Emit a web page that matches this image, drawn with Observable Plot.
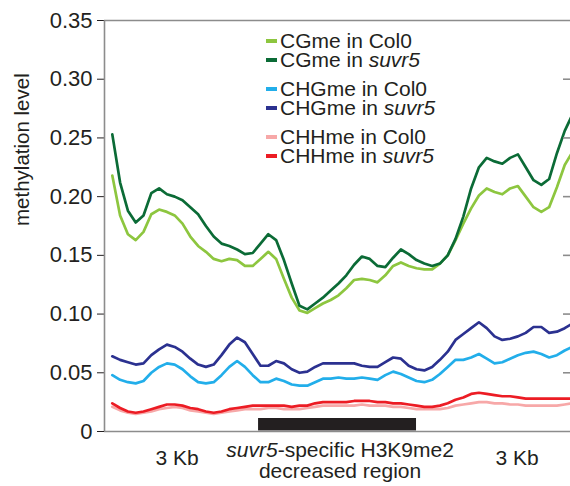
<!DOCTYPE html>
<html><head><meta charset="utf-8">
<script src="https://cdn.jsdelivr.net/npm/d3@7"></script>
<script src="https://cdn.jsdelivr.net/npm/@observablehq/plot@0.6"></script>
<style>
html,body{margin:0;padding:0;background:#fff;overflow:hidden}
#wrap{position:relative;width:570px;height:486px;font-family:"Liberation Sans",Arial,sans-serif;color:#231f20}
#legend{position:absolute;left:266px;top:31px;font-size:21px;line-height:19px}
.row{display:flex;align-items:center;height:19px;white-space:nowrap;overflow:visible}
.sw{width:11px;height:4px;margin-right:3px;flex:none}
.tx{display:inline-block;height:19px;line-height:19px;overflow:visible}
.gap{height:10px}
</style></head><body><div id="wrap"></div>
<script>
// bins: 20 bins 3 kb upstream, 20 bins in region, 20 bins 3 kb downstream
const bins = d3.range(60);
const seriesNames = ["CGme in Col0","CGme in suvr5","CHGme in Col0","CHGme in suvr5","CHHme in Col0","CHHme in suvr5"];
const cgCol0 = [0.218,0.184,0.168,0.163,0.170,0.185,0.189,0.187,0.184,0.177,0.166,0.158,0.153,0.147,0.145,0.147,0.146,0.141,0.141,0.147,0.153,0.147,0.130,0.114,0.103,0.101,0.105,0.109,0.112,0.116,0.122,0.129,0.130,0.129,0.127,0.133,0.141,0.144,0.141,0.139,0.138,0.138,0.143,0.150,0.163,0.177,0.190,0.201,0.207,0.204,0.202,0.207,0.209,0.200,0.191,0.187,0.191,0.208,0.227,0.238];
const cgSuvr5 = [0.253,0.212,0.188,0.178,0.184,0.203,0.207,0.202,0.200,0.197,0.191,0.185,0.175,0.166,0.160,0.158,0.155,0.151,0.152,0.160,0.168,0.163,0.146,0.126,0.107,0.104,0.109,0.114,0.120,0.126,0.133,0.142,0.149,0.147,0.141,0.140,0.148,0.155,0.151,0.146,0.143,0.141,0.143,0.150,0.164,0.183,0.207,0.225,0.233,0.230,0.228,0.233,0.236,0.225,0.214,0.210,0.215,0.237,0.256,0.270];
const chgCol0 = [0.048,0.044,0.042,0.041,0.043,0.050,0.055,0.058,0.057,0.053,0.047,0.042,0.041,0.042,0.048,0.055,0.060,0.055,0.048,0.042,0.042,0.045,0.043,0.040,0.039,0.039,0.042,0.045,0.045,0.046,0.045,0.045,0.046,0.045,0.044,0.048,0.051,0.049,0.046,0.043,0.042,0.044,0.049,0.055,0.061,0.061,0.063,0.066,0.062,0.058,0.059,0.062,0.065,0.067,0.068,0.066,0.063,0.065,0.069,0.072];
const chgSuvr5 = [0.064,0.061,0.059,0.057,0.058,0.065,0.070,0.074,0.072,0.068,0.062,0.057,0.055,0.057,0.065,0.074,0.080,0.076,0.066,0.056,0.056,0.060,0.058,0.053,0.050,0.051,0.055,0.058,0.058,0.058,0.058,0.058,0.056,0.055,0.055,0.059,0.063,0.062,0.056,0.053,0.052,0.055,0.061,0.068,0.078,0.083,0.088,0.093,0.088,0.081,0.078,0.079,0.081,0.084,0.089,0.089,0.084,0.085,0.088,0.092];
const chhCol0 = [0.021,0.018,0.016,0.015,0.016,0.017,0.019,0.020,0.021,0.020,0.018,0.017,0.016,0.015,0.016,0.017,0.018,0.019,0.019,0.019,0.020,0.020,0.019,0.019,0.019,0.020,0.021,0.022,0.022,0.022,0.022,0.022,0.023,0.022,0.022,0.022,0.021,0.021,0.020,0.019,0.019,0.019,0.019,0.020,0.022,0.023,0.024,0.025,0.025,0.024,0.024,0.023,0.023,0.022,0.022,0.022,0.022,0.022,0.023,0.024];
const chhSuvr5 = [0.024,0.020,0.017,0.016,0.017,0.019,0.021,0.023,0.023,0.022,0.020,0.019,0.017,0.016,0.017,0.019,0.020,0.021,0.022,0.022,0.022,0.022,0.022,0.021,0.022,0.022,0.024,0.025,0.025,0.025,0.025,0.026,0.026,0.026,0.025,0.025,0.024,0.024,0.023,0.022,0.021,0.021,0.022,0.024,0.027,0.029,0.032,0.033,0.032,0.031,0.030,0.030,0.029,0.028,0.028,0.028,0.028,0.028,0.028,0.028];
const yTicks = [0, 0.05, 0.10, 0.15, 0.20, 0.25, 0.30, 0.35];
const regionStart = 18.75, regionEnd = 39;           // decreased region, in bins
const bottomLabels = ["3 Kb", "suvr5-specific H3K9me2", "decreased region", "3 Kb"];
const bottomLabelBins = [8.3, 29.2, 29.2, 51.9];
const bottomLabelLine = [0, 1, 2, 0];

// styles
const seriesColors = ["#8dc63f","#0b6b36","#22aeea","#2b3190","#f7a8a8","#ec1c24"];
const gray = "#8c8c8c";
const ink = "#231f20";
const font = '"Liberation Sans", Arial, sans-serif';

const seriesValues = [cgCol0, cgSuvr5, chgCol0, chgSuvr5, chhCol0, chhSuvr5];
const rows = seriesNames.flatMap((name, k) => seriesValues[k].map((v, i) => ({bin: bins[i], value: v, series: name})));
const labels = bottomLabels.map((t, i) => ({text: t, bin: bottomLabelBins[i], line: bottomLabelLine[i]}));
const xDomain = [-1, 58.74];
const lineDy = [27, 19, 40];

const plot = Plot.plot({
  width: 570, height: 486,
  marginLeft: 104, marginRight: 0, marginTop: 20, marginBottom: 55,
  style: {fontFamily: font, fontSize: "22px", color: ink, background: "white", overflow: "visible"},
  x: {domain: xDomain, axis: null},
  y: {domain: [0, 0.35], ticks: yTicks, tickFormat: d => d === 0 ? "0" : d.toFixed(2),
      tickSize: 7, tickPadding: 5, label: null},
  color: {domain: seriesNames, range: seriesColors},
  marks: [
    Plot.lineY(rows, {x: "bin", y: "value", z: "series", stroke: "series", strokeWidth: 2.7, clip: true}),
    Plot.rect([{s: regionStart, e: regionEnd}], {x1: "s", x2: "e", fill: ink, insetTop: 398, insetBottom: 0.5}),
    Plot.ruleY([0, 0.35], {stroke: gray, strokeWidth: 1.6}),
    Plot.ruleX([xDomain[0]], {stroke: gray, strokeWidth: 1.6}),
    Plot.tickY(yTicks.slice(1, -1), {y: d => d, insetLeft: 459, stroke: gray, strokeWidth: 1.6}),
    Plot.text(["methylation level"], {frameAnchor: "left", lineAnchor: "middle", rotate: -90, dx: -82, fontSize: 20.5, fill: ink}),
    ...lineDy.map((dy, k) => Plot.text(labels.filter(d => d.line === k),
      {x: "bin", text: "text", frameAnchor: "bottom", lineAnchor: "middle", dy, fontSize: 21, fill: ink}))
  ]
});

const svg = d3.select(plot.tagName === "svg" ? plot : plot.querySelector("svg"));
// y-axis ticks in grey, labels in ink
svg.selectAll('g[aria-label="y-axis"] line, g[aria-label="y-axis"] path').attr("stroke", gray).attr("stroke-width", 1.6);
svg.selectAll('g[aria-label="y-axis"] text').attr("fill", ink).attr("font-size", 22);
svg.selectAll('g[aria-label="y-axis"]').attr("font-size", 22).attr("font-family", font);

// italicise "suvr5"
svg.selectAll("text").each(function() {
  const t = this.textContent;
  if (t.startsWith("suvr5") && this.children.length === 0) {
    const sel = d3.select(this);
    sel.text(null);
    sel.append("tspan").attr("font-style", "italic").text("suvr5");
    sel.append("tspan").text(t.slice(5));
  }
});

const wrap = document.getElementById("wrap");
wrap.appendChild(plot);

// legend
const legend = document.createElement("div");
legend.id = "legend";
seriesNames.forEach((name, k) => {
  if (k > 0 && k % 2 === 0) {
    const g = document.createElement("div"); g.className = "gap"; legend.appendChild(g);
  }
  const row = document.createElement("div"); row.className = "row";
  const sw = document.createElement("span"); sw.className = "sw"; sw.style.background = seriesColors[k];
  const tx = document.createElement("span"); tx.className = "tx";
  const m = name.match(/^(.* in )(suvr5)$/);
  if (m) { tx.textContent = m[1]; const it = document.createElement("i"); it.textContent = m[2]; tx.appendChild(it); }
  else tx.textContent = name;
  row.appendChild(sw); row.appendChild(tx);
  legend.appendChild(row);
});
wrap.appendChild(legend);
</script></body></html>
